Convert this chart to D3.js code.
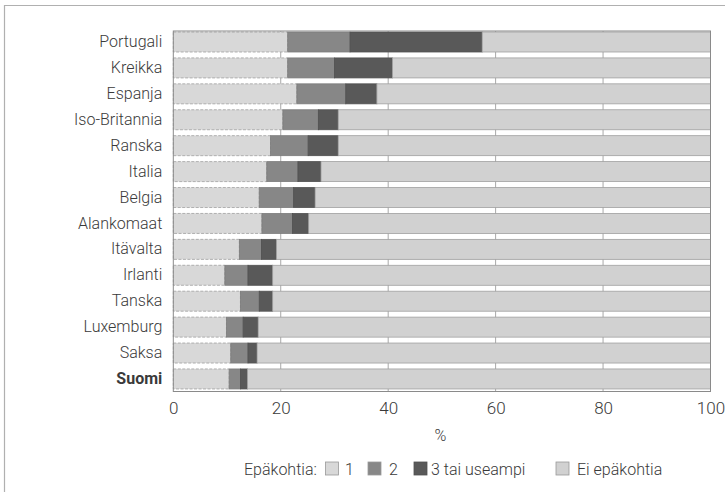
<!DOCTYPE html>
<html>
<head>
<meta charset="utf-8">
<script src="https://cdn.jsdelivr.net/npm/d3@7"></script>
<style>
  html, body { margin: 0; padding: 0; background: #fff; }
  svg { display: block; }
  text { font-family: Roboto, "Liberation Sans", sans-serif; font-weight: 300; fill: #3a3a3a; }
</style>
</head>
<body>
<svg id="chart" width="725" height="492"></svg>
<script>
const countries = ["Portugali","Kreikka","Espanja","Iso-Britannia","Ranska","Italia","Belgia","Alankomaat","Itävalta","Irlanti","Tanska","Luxemburg","Saksa","Suomi"];
const one   = [21.3, 21.3, 23.0, 20.4, 18.1, 17.4, 16.0, 16.5, 12.3, 9.6, 12.5, 9.9, 10.7, 10.4];
const two   = [11.6,  8.7,  9.1,  6.6,  7.0,  5.8,  6.4,  5.7,  4.1, 4.3,  3.5, 3.1,  3.2,  2.1];
const three = [24.6, 10.8,  5.8,  3.7,  5.6,  4.3,  4.0,  3.0,  2.8, 4.6,  2.5, 2.8,  1.7,  1.3];
const none  = countries.map((c, i) => +(100 - one[i] - two[i] - three[i]).toFixed(1));
const seriesKeys = ["one", "two", "three", "none"];
const legendLabels = ["1", "2", "3 tai useampi", "Ei epäkohtia"];
const xTicks = [0, 20, 40, 60, 80, 100];

const colors = { one: "#d8d8d8", two: "#878787", three: "#595959", none: "#d1d1d1" };

const rows = countries.map((c, i) => ({ country: c, one: one[i], two: two[i], three: three[i], none: none[i] }));

const svg = d3.select("#chart");
const plot = { left: 173.3, right: 710.5, top: 31, bottom: 391.5 };

const x = d3.scaleLinear().domain([0, 100]).range([plot.left, plot.right]);
const y = d3.scaleBand().domain(countries).range([32, 32 + 14 * 25.92]).padding(0);
const barH = 20;

// outer frame
svg.append("path")
  .attr("d", "M4.5,492 L4.5,5.5 L725,5.5")
  .attr("fill", "none").attr("stroke", "#b0b0b0").attr("stroke-width", 1.2);

// gridlines
svg.append("g").selectAll("line").data(xTicks.slice(1, -1)).join("line")
  .attr("x1", d => x(d)).attr("x2", d => x(d))
  .attr("y1", plot.top).attr("y2", plot.bottom)
  .attr("stroke", "#a8a8a8").attr("stroke-width", 1);

// bars
const stacked = d3.stack().keys(seriesKeys)(rows);
svg.append("g").selectAll("g").data(stacked).join("g")
  .attr("fill", d => colors[d.key])
  .selectAll("rect").data(d => d.map(v => Object.assign(v, { key: d.key }))).join("rect")
  .attr("x", d => x(d[0]))
  .attr("y", d => y(d.data.country))
  .attr("width", d => x(d[1]) - x(d[0]))
  .attr("height", barH)
  .attr("stroke", d => d.key === "three" ? "#505050" : (d.key === "two" ? "#7c7c7c" : "#a0a0a0"))
  .attr("stroke-width", 0.8)
  .attr("stroke-dasharray", d => d.key === "one" ? "3,1.5" : null);

// plot frame
svg.append("rect")
  .attr("x", plot.left).attr("y", plot.top)
  .attr("width", plot.right - plot.left).attr("height", plot.bottom - plot.top)
  .attr("fill", "none").attr("stroke", "#8a8a8a").attr("stroke-width", 1);

// y axis labels
const yAxis = d3.axisLeft(y).tickSize(0).tickPadding(11);
const gy = svg.append("g").attr("transform", `translate(${plot.left},${barH / 2 - y.bandwidth() / 2})`).call(yAxis);
gy.select(".domain").remove();
gy.selectAll("text")
  .attr("font-size", 16).attr("font-family", "Roboto, sans-serif")
  .style("font-weight", d => d === "Suomi" ? 700 : 300)
  .attr("fill", "#3a3a3a");

// x axis labels
const xAxis = d3.axisBottom(x).tickValues(xTicks).tickSize(0).tickPadding(10);
const gx = svg.append("g").attr("transform", `translate(0,${plot.bottom})`).call(xAxis);
gx.select(".domain").remove();
gx.selectAll("text").attr("font-size", 17).attr("font-family", "Roboto, sans-serif").attr("fill", "#444");

svg.append("text").attr("x", 440.5).attr("y", 441).attr("text-anchor", "middle")
  .attr("font-size", 16).text("%");

// legend
const ly = 475;
svg.append("text").attr("x", 244).attr("y", ly).attr("font-size", 16).text("Epäkohtia:");
const legendPos = [
  { sx: 325.5, tx: 345 },
  { sx: 368, tx: 389 },
  { sx: 414, tx: 431 },
  { sx: 556, tx: 577 }
];
seriesKeys.forEach((k, i) => {
  svg.append("rect")
    .attr("x", legendPos[i].sx).attr("y", 462).attr("width", 13).attr("height", 13)
    .attr("fill", colors[k]).attr("stroke", k === "three" ? "#505050" : "#999").attr("stroke-width", 0.8);
  svg.append("text").attr("x", legendPos[i].tx).attr("y", ly).attr("font-size", 16).text(legendLabels[i]);
});
</script>
</body>
</html>
